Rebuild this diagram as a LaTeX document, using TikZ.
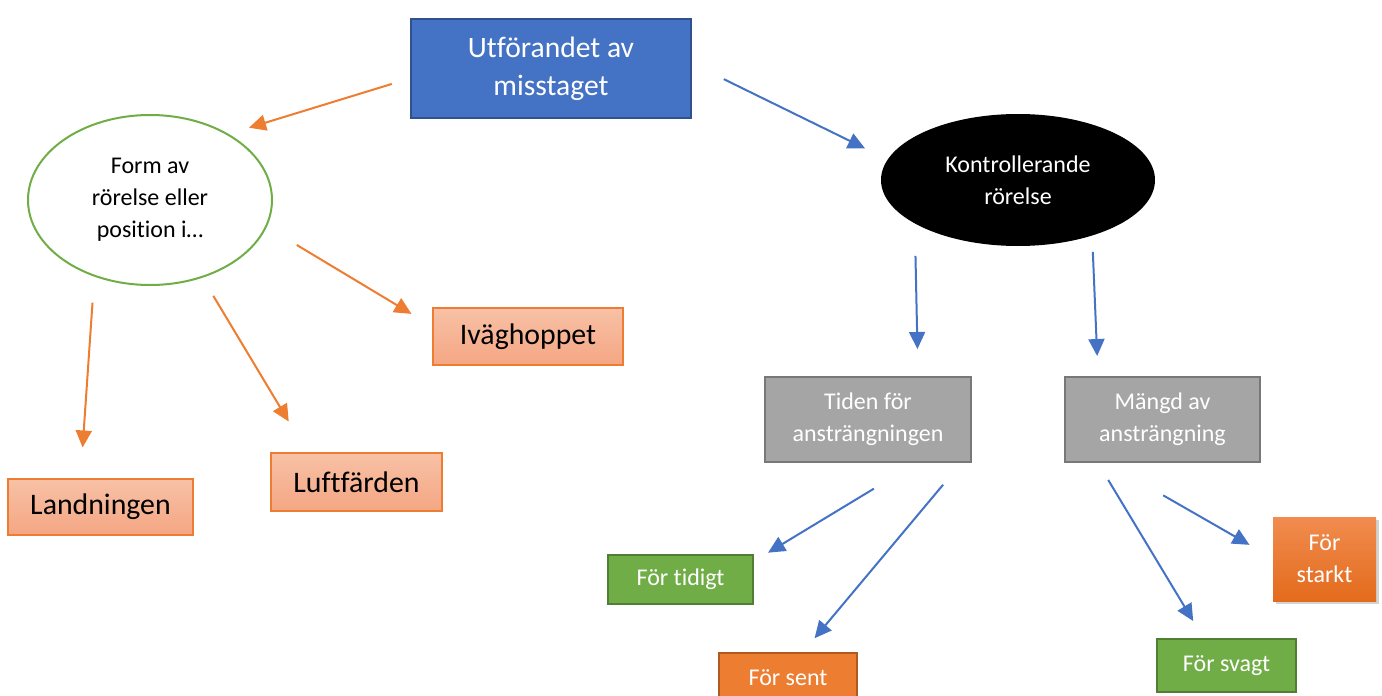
\documentclass[tikz,border=0pt]{standalone}
\usepackage{fontspec}
\setmainfont{Carlito}[Ligatures=NoCommon]
\usetikzlibrary{shapes.geometric, arrows.meta, shadows}

\definecolor{offblue}{HTML}{4472C4}
\definecolor{blueline}{HTML}{2F528F}
\definecolor{offorange}{HTML}{ED7D31}
\definecolor{orangeline}{HTML}{AE5A21}
\definecolor{offgreen}{HTML}{70AD47}
\definecolor{greenline}{HTML}{507E32}
\definecolor{offgrey}{HTML}{A5A5A5}
\definecolor{greyline}{HTML}{787878}
\definecolor{peachtop}{HTML}{F8C1A6}
\definecolor{peachbot}{HTML}{F4A683}
\definecolor{hottop}{HTML}{F18C4F}
\definecolor{hotbot}{HTML}{E36B1C}

\begin{document}
\begin{tikzpicture}[x=0.5pt, y=-0.5pt,
box/.style={rectangle, inner sep=0pt, align=center},
small/.style={font=\fontsize{12}{16}\selectfont},
peach/.style={box, draw=offorange, line width=0.6pt, top color=peachtop, bottom color=peachbot, font=\fontsize{14.9}{17}\selectfont},
greybox/.style={box, small, fill=offgrey, draw=greyline, line width=1pt, text=white, minimum height=42.5pt},
greenbox/.style={box, small, fill=offgreen, draw=greenline, line width=1pt, text=white},
hotbox/.style={box, small, fill=offorange, draw=orangeline, line width=1pt, text=white},
oarrow/.style={draw=offorange, line width=1pt, -{Triangle[length=8.5pt,width=8pt]}},
barrow/.style={draw=offblue, line width=1pt, -{Triangle[length=8.5pt,width=8pt]}}]
\useasboundingbox (0,0) rectangle (1382,696);

\node [box, fill=offblue, draw=blueline, line width=1pt, text=white, minimum width=140pt, minimum height=49.5pt, font=\fontsize{14.8}{19}\selectfont] (top) at (551,68.5) {Utförandet av\\misstaget};
\node [ellipse, draw=offgreen, line width=1pt, fill=white, small, align=center, inner sep=0pt, minimum width=122pt, minimum height=85pt] (form) at (150,200) {Form av\\rörelse eller\\position i…};
\node [ellipse, fill=black, text=white, small, align=center, inner sep=0pt, minimum width=137pt, minimum height=66pt] (ctrl) at (1018,180) {Kontrollerande\\rörelse};

\node [peach, minimum width=95pt, minimum height=28.5pt] (hopp) at (528,336.5) {Iväghoppet};
\node [peach, minimum width=85.5pt, minimum height=29pt] (luft) at (356.5,482) {Luftfärden};
\node [peach, minimum width=92.5pt, minimum height=28pt] (land) at (100.5,507) {Landningen};

\node [greybox, minimum width=103pt] (tid) at (868,419.5) {Tiden för\\ansträngningen};
\node [greybox, minimum width=97.5pt] (mangd) at (1162.5,419.5) {Mängd av\\ansträngning};

\node [greenbox, minimum width=72.5pt, minimum height=24.5pt] (tidigt) at (680.5,579.5) {För tidigt};
\node [hotbox, minimum width=69pt, minimum height=25pt] (sent) at (788,678) {För sent};
\node [box, small, top color=hottop, bottom color=hotbot, text=white, minimum width=51.5pt, minimum height=42pt, drop shadow={shadow xshift=1.5pt, shadow yshift=-1.5pt, opacity=0.35}] (starkt) at (1324.5,559) {För\\starkt};
\node [greenbox, minimum width=69.5pt, minimum height=26.5pt] (svagt) at (1226.5,665.5) {För svagt};

\draw [oarrow, shorten <=9.5pt, shorten >=10.6pt] (top.184) -- (form.40);
\draw [oarrow, shorten <=17.5pt, shorten >=12.2pt] (form.-13) -- (hopp.174);
\draw [oarrow, shorten <=10.5pt, shorten >=18pt] (form.-56) -- (luft.149);
\draw [oarrow, shorten <=13pt, shorten >=15.5pt] (form.234) -- (land.125);

\draw [barrow, shorten <=17.7pt, shorten >=12.5pt] (top.2) -- (ctrl.171);
\draw [barrow, shorten <=16pt, shorten >=13.5pt] (ctrl.203) -- (tid.41);
\draw [barrow, shorten <=8pt, shorten >=10pt] (ctrl.-37) -- (mangd.146);
\draw [barrow, shorten <=24.8pt, shorten >=8.2pt] (tid.-42) -- (tidigt.14);
\draw [barrow, shorten <=14.2pt, shorten >=9pt] (tid.-25) -- (sent.60);
\draw [barrow, shorten <=9.9pt, shorten >=9.9pt] (mangd.214) -- (svagt.130);
\draw [barrow, shorten <=32.5pt, shorten >=13.3pt] (mangd.218) -- (starkt.179);
\end{tikzpicture}
\end{document}
